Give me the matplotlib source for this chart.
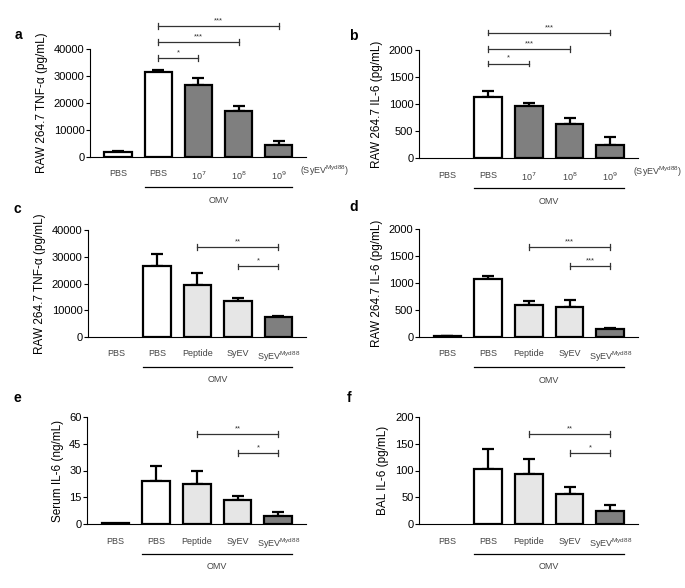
import numpy as np
import matplotlib
matplotlib.use("Agg")
import matplotlib.pyplot as plt

plt.rcParams['font.family'] = ['Liberation Sans', 'DejaVu Sans']

# --- data ---
labels_dose = ["PBS", "PBS", "10$^{7}$", "10$^{8}$", "10$^{9}$"]
labels_pep = ["PBS", "PBS", "Peptide", "SyEV", "SyEV$^{\\mathregular{Myd88}}$"]

a_vals = [1850, 31600, 26700, 17000, 4300]
a_err = [400, 600, 2400, 1900, 1700]
b_vals = [0, 1138, 966, 628, 246]
b_err = [0, 105, 61, 122, 142]
c_vals = [0, 26400, 19600, 13400, 7600]
c_err = [0, 4700, 4500, 1100, 100]
d_vals = [15, 1069, 590, 559, 143]
d_err = [5, 67, 80, 124, 25]
e_vals = [0.3, 23.9, 22.6, 13.6, 4.3]
e_err = [0, 8.4, 7.3, 2.3, 2.4]
f_vals = [0, 103.4, 94, 56, 23.6]
f_err = [0, 37, 28, 13, 12]

# significance brackets: (x1, x2, y, label)
a_sig = [(1, 2, 36700, "*"), (1, 3, 42600, "***"), (1, 4, 48500, "***")]
b_sig = [(1, 2, 1750, "*"), (1, 3, 2020, "***"), (1, 4, 2320, "***")]
c_sig = [(2, 4, 33600, "**"), (3, 4, 26400, "*")]
d_sig = [(2, 4, 1665, "***"), (3, 4, 1316, "***")]
e_sig = [(2, 4, 50.5, "**"), (3, 4, 39.8, "*")]
f_sig = [(2, 4, 168, "**"), (3, 4, 133, "*")]

dark = "#7f7f7f"
light = "#e6e6e6"
a_cols = ["white", "white", dark, dark, dark]
c_cols = ["white", "white", light, light, dark]

fig = plt.figure(figsize=(6.85, 5.88), dpi=100)


def px_axes(l, r, t, b):
    W, H = 685, 588
    return fig.add_axes([l / W, 1 - b / H, (r - l) / W, (b - t) / H])


def panel(ax, vals, err, cols, labels, ytop, yticks, ylabel, sig, letter, suffix=None):
    x = np.arange(len(vals))
    lw = [1.6 if v > 0 else 0 for v in vals]
    ax.bar(x, vals, width=0.68, color=cols, edgecolor="black", linewidth=lw, zorder=2)
    for xi, v, e in zip(x, vals, err):
        if v > 0 and e > 0:
            ax.errorbar(xi, v, yerr=[[0], [e]], fmt="none", ecolor="black",
                        elinewidth=1.6, capsize=4, capthick=1.6, zorder=1)
    ax.set_xlim(-0.7, 4.68)
    ax.set_ylim(0, ytop)
    ax.set_yticks(yticks)
    ax.set_xticks(x)
    ax.set_xticklabels(labels, fontsize=6.5, color="#444444")
    ax.tick_params(axis="x", length=0, pad=9)
    ax.tick_params(axis="y", length=3, width=0.8, labelsize=8, pad=1)
    for s in ["top", "right"]:
        ax.spines[s].set_visible(False)
    ax.spines["left"].set_linewidth(0.8)
    ax.spines["bottom"].set_linewidth(0.8)
    ax.set_ylabel(ylabel, fontsize=8.5, labelpad=4)
    h = ytop * 0.025
    for x1, x2, y, lab in sig:
        ax.plot([x1, x2], [y, y], color="#333333", lw=0.9, clip_on=False)
        ax.plot([x1, x1], [y - h, y + h], color="#333333", lw=0.9, clip_on=False)
        ax.plot([x2, x2], [y - h, y + h], color="#333333", lw=0.9, clip_on=False)
        ax.text((x1 + x2) / 2, y + h * 0.6, lab, ha="center", va="bottom",
                fontsize=5.5, color="#333333", clip_on=False)
    # OMV group line
    ax.plot([0.66, 4.34], [-0.28, -0.28], color="black", lw=0.9,
            transform=ax.get_xaxis_transform(), clip_on=False)
    ax.text(2.5, -0.40, "OMV", transform=ax.get_xaxis_transform(), ha="center",
            va="center", fontsize=6.5, color="#444444")
    if suffix:
        ax.text(5.15, -0.13, suffix, transform=ax.get_xaxis_transform(), ha="center",
                va="center", fontsize=6.5, color="#444444")
    ax.text(-0.245, 1.13, letter, transform=ax.transAxes, fontsize=10,
            fontweight="bold", ha="center", va="center")


suffix = "(SyEV$^{\\mathregular{Myd88}}$)"

ax = px_axes(90, 306, 49, 157)
panel(ax, a_vals, a_err, a_cols, labels_dose, 40000, [0, 10000, 20000, 30000, 40000],
      "RAW 264.7 TNF-α (pg/mL)", a_sig, "a", suffix)
ax.texts[-1].set_position((-0.33, 1.13))

ax = px_axes(419, 638, 50, 158)
panel(ax, b_vals, b_err, a_cols, labels_dose, 2000, [0, 500, 1000, 1500, 2000],
      "RAW 264.7 IL-6 (pg/mL)", b_sig, "b", suffix)
ax.texts[-1].set_position((-0.30, 1.13))

ax = px_axes(88, 306, 230, 337)
panel(ax, c_vals, c_err, c_cols, labels_pep, 40000, [0, 10000, 20000, 30000, 40000],
      "RAW 264.7 TNF-α (pg/mL)", c_sig, "c")
ax.texts[-1].set_position((-0.325, 1.2))

ax = px_axes(419, 638, 229, 337)
panel(ax, d_vals, d_err, c_cols, labels_pep, 2000, [0, 500, 1000, 1500, 2000],
      "RAW 264.7 IL-6 (pg/mL)", d_sig, "d")
ax.texts[-1].set_position((-0.30, 1.2))

ax = px_axes(87, 306, 417, 524)
panel(ax, e_vals, e_err, c_cols, labels_pep, 60, [0, 15, 30, 45, 60],
      "Serum IL-6 (ng/mL)", e_sig, "e")
ax.texts[-1].set_position((-0.32, 1.18))

ax = px_axes(419, 638, 417, 524)
panel(ax, f_vals, f_err, c_cols, labels_pep, 200, [0, 50, 100, 150, 200],
      "BAL IL-6 (pg/mL)", f_sig, "f")
ax.texts[-1].set_position((-0.32, 1.18))

fig.savefig("out.png", dpi=100)
